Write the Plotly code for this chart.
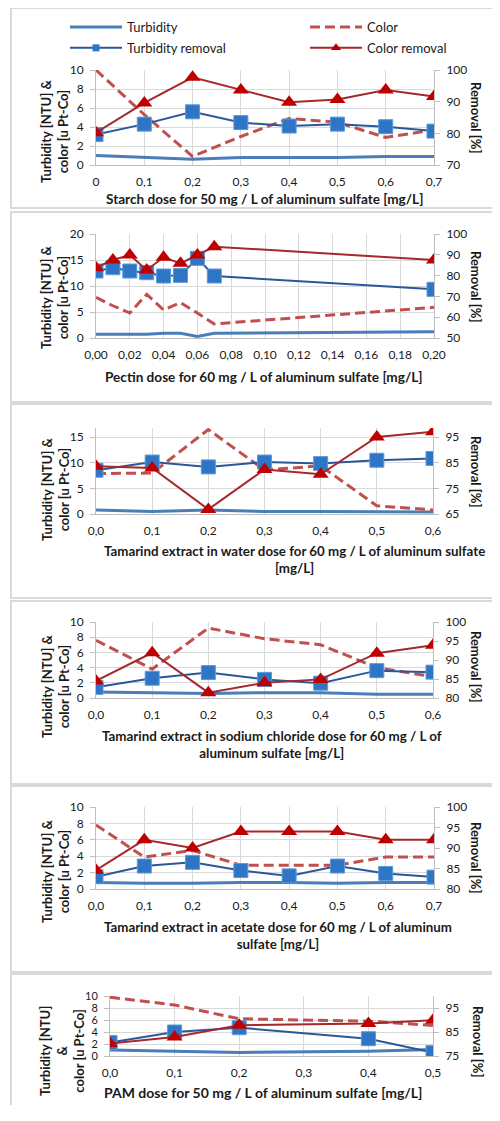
import plotly.graph_objects as go

# page offset (browser body margin) and figure size so the page fits the 500x1121 window
OFF = 8
FW, FH = 500 - 2 * OFF, 1121 - 2 * OFF - 8


def X(p):
    return (p - OFF) / FW


def Y(p):
    return 1 - (p - OFF) / FH


# ---------------- DATA ----------------
# Panel 1: Starch
starch_dose = [0, 0.1, 0.2, 0.3, 0.4, 0.5, 0.6, 0.7]
starch_turbidity = [1.0, 0.8, 0.6, 0.8, 0.8, 0.8, 0.9, 0.9]
starch_color = [10.0, 5.3, 0.9, 3.0, 4.9, 4.5, 2.9, 3.7]
starch_turb_removal = [79.6, 82.9, 86.8, 83.4, 82.3, 82.9, 82.1, 80.7]
starch_color_removal = [80.2, 89.6, 97.7, 93.7, 89.8, 90.7, 93.7, 91.6]

# Panel 2: Pectin
pectin_dose = [0, 0.01, 0.02, 0.03, 0.04, 0.05, 0.06, 0.07, 0.20]
pectin_turbidity = [0.7, 0.7, 0.7, 0.7, 0.9, 0.9, 0.3, 0.9, 1.2]
pectin_color = [7.8, 6.2, 4.8, 8.4, 5.4, 6.8, 4.8, 2.7, 5.9]
pectin_turb_removal = [82.2, 83.8, 82.2, 81.4, 79.8, 80.1, 88.3, 79.8, 73.4]
pectin_color_removal = [83.8, 87.5, 89.9, 82.7, 88.8, 85.9, 89.9, 93.9, 87.5]

# Panel 3: Tamarind extract in water
tw_dose = [0, 0.1, 0.2, 0.3, 0.4, 0.5, 0.6]
tw_turbidity = [0.8, 0.5, 0.8, 0.5, 0.5, 0.5, 0.4]
tw_color = [7.9, 8.0, 16.5, 8.6, 9.4, 1.6, 0.8]
tw_turb_removal = [82.1, 85.3, 83.4, 85.3, 84.7, 86.0, 86.7]
tw_color_removal = [83.7, 83.0, 66.8, 82.4, 80.5, 95.1, 97.1]

# Panel 4: Tamarind extract in sodium chloride
tn_dose = [0, 0.1, 0.2, 0.3, 0.4, 0.5, 0.6]
tn_turbidity = [0.8, 0.7, 0.6, 0.7, 0.7, 0.5, 0.5]
tn_color = [7.6, 3.8, 9.2, 7.8, 7.0, 4.0, 2.8]
tn_turb_removal = [82.8, 85.2, 86.7, 84.9, 83.9, 87.2, 86.8]
tn_color_removal = [84.5, 91.9, 81.4, 84.0, 84.9, 91.8, 93.9]

# Panel 5: Tamarind extract in acetate
ta_dose = [0, 0.1, 0.2, 0.3, 0.4, 0.5, 0.6, 0.7]
ta_turbidity = [0.8, 0.7, 0.7, 0.8, 0.8, 0.7, 0.8, 0.8]
ta_color = [7.8, 3.9, 4.7, 2.9, 2.9, 2.9, 3.9, 3.9]
ta_turb_removal = [83.0, 85.6, 86.5, 84.5, 83.2, 85.6, 83.8, 82.9]
ta_color_removal = [84.6, 92.0, 90.0, 94.0, 94.0, 94.0, 92.0, 92.0]

# Panel 6: PAM
pam_dose = [0, 0.1, 0.2, 0.4, 0.5]
pam_turbidity = [1.0, 0.8, 0.6, 0.8, 1.1]
pam_color = [9.8, 8.5, 6.2, 5.8, 5.1]
pam_turb_removal = [80.6, 85.0, 86.8, 82.2, 76.4]
pam_color_removal = [80.2, 82.9, 87.8, 88.5, 89.9]

# Tick labels
x_ticks_07 = [0, 0.1, 0.2, 0.3, 0.4, 0.5, 0.6, 0.7]
x_labels_starch = ["0", "0,1", "0,2", "0,3", "0,4", "0,5", "0,6", "0,7"]
x_labels_07 = ["0,0", "0,1", "0,2", "0,3", "0,4", "0,5", "0,6", "0,7"]
x_ticks_pectin = [0, 0.02, 0.04, 0.06, 0.08, 0.10, 0.12, 0.14, 0.16, 0.18, 0.20]
x_labels_pectin = ["0,00", "0,02", "0,04", "0,06", "0,08", "0,10", "0,12", "0,14", "0,16", "0,18", "0,20"]
x_ticks_06 = [0, 0.1, 0.2, 0.3, 0.4, 0.5, 0.6]
x_labels_06 = ["0,0", "0,1", "0,2", "0,3", "0,4", "0,5", "0,6"]
x_ticks_05 = [0, 0.1, 0.2, 0.3, 0.4, 0.5]
x_labels_05 = ["0,0", "0,1", "0,2", "0,3", "0,4", "0,5"]

series_names = ["Turbidity", "Color", "Turbidity removal", "Color removal"]

# ---------------- STYLE / LAYOUT SPEC ----------------
FONT = "Lato, 'Open Sans', sans-serif"
TXT = "#1a1a1a"
GRID = "#d9d9d9"
AXLINE = "#bfbfbf"
BOX = "#d9d9d9"

C_TURB = "#4A7EBB"
C_COLOR = "#C0504D"
C_TR_LINE = "#2B579A"
C_TR_MARK = "#2E75C6"
C_CR_LINE = "#A3292C"
C_CR_MARK = "#C00000"

# positions below are in window pixels (reference picture coordinates)
panels = [
    dict(x=starch_dose, t=starch_turbidity, c=starch_color, tr=starch_turb_removal, cr=starch_color_removal,
         xr=[0, 0.7], xt=x_ticks_07, xl=x_labels_starch, px=(96, 434), py=(70, 165),
         yl=[0, 10], ylt=[0, 2, 4, 6, 8, 10], yr=[70, 100], yrt=[70, 80, 90, 100], tfs=12,
         xtitle="Starch dose for 50 mg / L of aluminum sulfate [mg/L]", xtc=(264, 199), xfs=13.6,
         ltitle="Turbidity [NTU] &<br>color [u Pt-Co]", ltc=(55, 132), rtc=(476, 118),
         box=(8, 208)),
    dict(x=pectin_dose, t=pectin_turbidity, c=pectin_color, tr=pectin_turb_removal, cr=pectin_color_removal,
         xr=[0, 0.2], xt=x_ticks_pectin, xl=x_labels_pectin, px=(96, 434), py=(234, 338),
         yl=[0, 20], ylt=[0, 5, 10, 15, 20], yr=[50, 100], yrt=[50, 60, 70, 80, 90, 100], tfs=12,
         xtitle="Pectin dose for 60 mg / L of aluminum sulfate [mg/L]", xtc=(264, 377), xfs=13.6,
         ltitle="Turbidity [NTU] &<br>color [u Pt-Co]", ltc=(55, 298), rtc=(476, 287),
         box=(212, 402)),
    dict(x=tw_dose, t=tw_turbidity, c=tw_color, tr=tw_turb_removal, cr=tw_color_removal,
         xr=[0, 0.6], xt=x_ticks_06, xl=x_labels_06, px=(96, 433), py=(428, 514),
         yl=[0, 16.8], ylt=[0, 5, 10, 15], yr=[65, 98.6], yrt=[65, 75, 85, 95], tfs=12,
         xtitle="Tamarind extract in water dose for 60 mg / L of aluminum sulfate<br>[mg/L]", xtc=(294, 559),
         xfs=13.3,
         ltitle="Turbidity [NTU] &<br>color [u Pt-Co]", ltc=(55, 490), rtc=(476, 472),
         box=(404, 598)),
    dict(x=tn_dose, t=tn_turbidity, c=tn_color, tr=tn_turb_removal, cr=tn_color_removal,
         xr=[0, 0.6], xt=x_ticks_06, xl=x_labels_06, px=(96, 433), py=(622, 698),
         yl=[0, 10], ylt=[0, 2, 4, 6, 8, 10], yr=[80, 100], yrt=[80, 85, 90, 95, 100], tfs=12,
         xtitle="Tamarind extract in sodium chloride dose for 60 mg / L of<br>aluminum sulfate [mg/L]",
         xtc=(272, 744), xfs=13.4,
         ltitle="Turbidity [NTU] &<br>color [u Pt-Co]", ltc=(55, 687), rtc=(476, 667),
         box=(601, 784)),
    dict(x=ta_dose, t=ta_turbidity, c=ta_color, tr=ta_turb_removal, cr=ta_color_removal,
         xr=[0, 0.7], xt=x_ticks_07, xl=x_labels_07, px=(96, 434), py=(807, 889),
         yl=[0, 10], ylt=[0, 2, 4, 6, 8, 10], yr=[80, 100], yrt=[80, 85, 90, 95, 100], tfs=12,
         xtitle="Tamarind extract in acetate dose for 60 mg / L of aluminum<br>sulfate [mg/L]", xtc=(278, 935),
         xfs=13.3,
         ltitle="Turbidity [NTU] &<br>color [u Pt-Co]", ltc=(55, 872), rtc=(476, 858),
         box=(786, 972)),
    dict(x=pam_dose, t=pam_turbidity, c=pam_color, tr=pam_turb_removal, cr=pam_color_removal,
         xr=[0, 0.5], xt=x_ticks_05, xl=x_labels_05, px=(110, 433), py=(996, 1056),
         yl=[0, 10], ylt=[0, 2, 4, 6, 8, 10], yr=[75, 100], yrt=[75, 85, 95], tfs=11,
         xtitle="PAM dose for 50 mg / L of aluminum sulfate [mg/L]", xtc=(263, 1092), xfs=14,
         ltitle="Turbidity [NTU]<br>&<br>color [u Pt-Co]", ltc=(62, 1051), rtc=(478, 1042),
         box=(974, 1140)),
]

fig = go.Figure()
layout = dict(
    width=FW, height=FH, margin=dict(l=0, r=0, t=0, b=0, autoexpand=False),
    paper_bgcolor="white", plot_bgcolor="rgba(0,0,0,0)",
    font=dict(family=FONT, size=12, color=TXT),
    showlegend=True,
    legend=dict(x=X(65), y=Y(12), xanchor="left", yanchor="top", orientation="v",
                itemwidth=52, tracegroupgap=1, bgcolor="rgba(0,0,0,0)", font=dict(size=13)),
    legend2=dict(x=X(305), y=Y(12), xanchor="left", yanchor="top", orientation="v",
                 itemwidth=52, tracegroupgap=1, bgcolor="rgba(0,0,0,0)", font=dict(size=13)),
)
shapes = []
annotations = []

for i, p in enumerate(panels):
    n = i + 1
    xa = "x" if n == 1 else f"x{n}"
    ya = "y" if n == 1 else f"y{n}"
    yb = f"y{n + 6}"
    xdom = [X(p["px"][0]), X(p["px"][1])]
    ydom = [Y(p["py"][1]), Y(p["py"][0])]

    layout[f"xaxis{'' if n == 1 else n}"] = dict(
        domain=xdom, anchor=ya, range=p["xr"], tickmode="array", tickvals=p["xt"], ticktext=p["xl"],
        showgrid=True, gridcolor=GRID, gridwidth=1, showline=True, linecolor=AXLINE, linewidth=1,
        ticks="", ticklabelstandoff=6, zeroline=False, tickfont=dict(size=12, color=TXT),
        fixedrange=True, automargin=False)
    layout[f"yaxis{'' if n == 1 else n}"] = dict(
        domain=ydom, anchor=xa, range=p["yl"], tickmode="array", tickvals=p["ylt"],
        showgrid=True, gridcolor=GRID, gridwidth=1, showline=True, linecolor=AXLINE, linewidth=1,
        ticks="outside", ticklen=5, tickcolor=AXLINE, ticklabelstandoff=4, zeroline=False,
        tickfont=dict(size=p["tfs"], color=TXT), fixedrange=True, automargin=False)
    layout[f"yaxis{n + 6}"] = dict(
        domain=ydom, anchor=xa, overlaying=ya, side="right", range=p["yr"], tickmode="array",
        tickvals=p["yrt"], showgrid=False, showline=True, linecolor=AXLINE, linewidth=1,
        ticks="outside", ticklen=5, tickcolor=AXLINE, ticklabelstandoff=4, zeroline=False,
        tickfont=dict(size=12, color=TXT), fixedrange=True, automargin=False)

    fig.add_trace(go.Scatter(x=p["x"], y=p["t"], xaxis=xa, yaxis=ya, mode="lines", name=series_names[0],
                             line=dict(color=C_TURB, width=3), showlegend=False, hoverinfo="skip"))
    fig.add_trace(go.Scatter(x=p["x"], y=p["c"], xaxis=xa, yaxis=ya, mode="lines", name=series_names[1],
                             line=dict(color=C_COLOR, width=3, dash="10px,5px"), showlegend=False,
                             hoverinfo="skip"))
    fig.add_trace(go.Scatter(x=p["x"], y=p["tr"], xaxis=xa, yaxis=yb, mode="lines+markers",
                             name=series_names[2], line=dict(color=C_TR_LINE, width=2),
                             marker=dict(symbol="square", size=14, color=C_TR_MARK,
                                         line=dict(color="#5B9BD5", width=1)),
                             showlegend=False, hoverinfo="skip"))
    fig.add_trace(go.Scatter(x=p["x"], y=p["cr"], xaxis=xa, yaxis=yb, mode="lines+markers",
                             name=series_names[3], line=dict(color=C_CR_LINE, width=2),
                             marker=dict(symbol="triangle-up", size=14, color=C_CR_MARK),
                             showlegend=False, hoverinfo="skip"))

    shapes.append(dict(type="rect", xref="paper", yref="paper", x0=X(11), x1=1.05,
                       y0=Y(p["box"][1]), y1=Y(p["box"][0]),
                       line=dict(color=BOX, width=2), fillcolor="rgba(0,0,0,0)", layer="below"))
    annotations.append(dict(text=f"<b>{p['xtitle']}</b>", x=X(p["xtc"][0]), y=Y(p["xtc"][1]),
                            xref="paper", yref="paper", showarrow=False, xanchor="center", yanchor="middle",
                            font=dict(size=p["xfs"], color=TXT)))
    annotations.append(dict(text=f"<b>{p['ltitle']}</b>", x=X(p["ltc"][0]), y=Y(p["ltc"][1]),
                            xref="paper", yref="paper", showarrow=False, textangle=-90,
                            xanchor="center", yanchor="middle", font=dict(size=13, color=TXT)))
    annotations.append(dict(text="<b>Removal [%]</b>", x=X(p["rtc"][0]), y=Y(p["rtc"][1]),
                            xref="paper", yref="paper", showarrow=False, textangle=90,
                            xanchor="center", yanchor="middle", font=dict(size=13, color=TXT)))

# legend-only entries (smaller legend symbols as in the reference)
fig.add_trace(go.Scatter(x=[None], y=[None], mode="lines", name=series_names[0],
                         line=dict(color=C_TURB, width=3), legend="legend", legendgroup="a"))
fig.add_trace(go.Scatter(x=[None], y=[None], mode="lines+markers", name=series_names[2],
                         line=dict(color=C_TR_LINE, width=2),
                         marker=dict(symbol="square", size=7, color=C_TR_MARK),
                         legend="legend", legendgroup="c"))
fig.add_trace(go.Scatter(x=[None], y=[None], mode="lines", name=series_names[1],
                         line=dict(color=C_COLOR, width=3, dash="10px,5px"), legend="legend2",
                         legendgroup="b"))
fig.add_trace(go.Scatter(x=[None], y=[None], mode="lines+markers", name=series_names[3],
                         line=dict(color=C_CR_LINE, width=2),
                         marker=dict(symbol="triangle-up", size=9, color=C_CR_MARK),
                         legend="legend2", legendgroup="d"))

layout["shapes"] = shapes
layout["annotations"] = annotations
fig.update_layout(**layout)
fig.write_html("out.html")
